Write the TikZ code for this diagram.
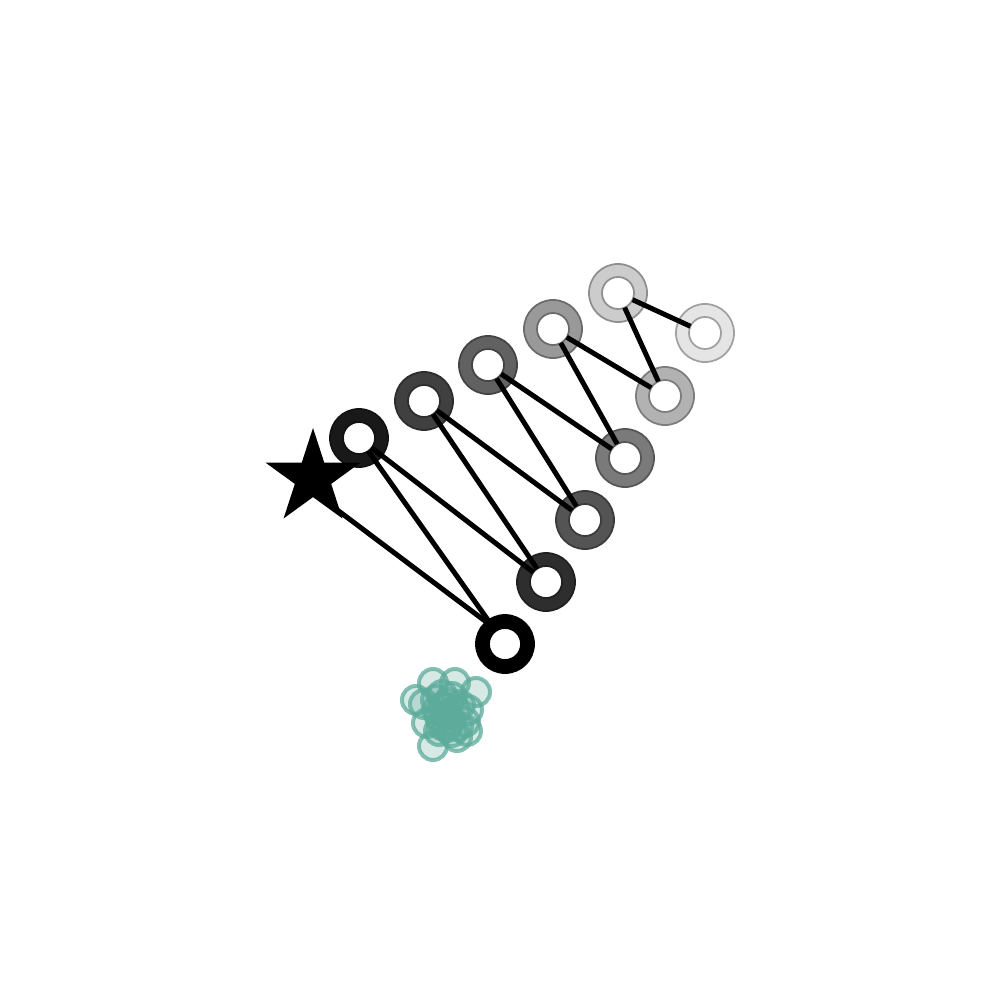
\documentclass[tikz,border=0pt]{standalone}
\usepackage{tikz}
\usetikzlibrary{shapes.geometric}
\definecolor{tealpt}{RGB}{92,171,155}
\tikzset{
  ring/.style={circle, minimum size=0.58cm, inner sep=0pt, outer sep=0pt, line width=0.5pt},
  hole/.style={circle, minimum size=0.32cm, inner sep=0pt, outer sep=0pt, fill=white, line width=0.5pt},
  link/.style={line width=0.05cm, black, shorten >=0.16cm, shorten <=0.16cm},
  blob/.style={circle, minimum size=0.28cm, inner sep=0pt, line width=0.04cm, draw=tealpt, draw opacity=0.75, fill=tealpt, fill opacity=0.25}
}
\begin{document}
\begin{tikzpicture}[x=0.01cm, y=-0.01cm]
\useasboundingbox[fill=white] (0,0) rectangle (1000,1000);

% cluster of samples
\foreach \px/\py in {433/683, 455/683, 476/692, 416/700, 424/704, 452/697, 468/710, 445/708,
                     440/717, 427/723, 447/727, 465/722, 467/731, 457/737, 433/746,
                     442/695, 448/703, 437/710, 455/712, 450/720, 442/725, 458/726,
                     446/715, 436/700, 460/705, 452/732, 439/731}
  \node[blob] at (\px,\py) {};

% rings, upper and lower rows
\foreach \nm/\px/\py/\lv in {b1/505/644/100, a1/359/438/90, b2/546/582/82, a2/424/401/75,
                             b3/585/520/67, a3/488/365/62, b4/625/458/52, a4/553/329/40,
                             b5/665/396/30, a5/618/293/20, b6/705/333/10} {
  \node[ring, fill=black!\lv, draw=black!\lv!white!70!black] (\nm) at (\px,\py) {};
  \node[hole, draw=black!\lv!white!70!black] at (\nm.center) {};
}

\coordinate (stp) at (332,506);
\coordinate (b1e) at (489,624);

\draw[link, shorten <=0pt, shorten >=0pt] (stp) -- (b1e);
\draw[link] (a1.center) -- (b1.center);
\draw[link] (a1.center) -- (b2.center);
\draw[link] (a2.center) -- (b2.center);
\draw[link] (a2.center) -- (b3.center);
\draw[link] (a3.center) -- (b3.center);
\draw[link] (a3.center) -- (b4.center);
\draw[link] (a4.center) -- (b4.center);
\draw[link] (a4.center) -- (b5.center);
\draw[link] (a5.center) -- (b5.center);
\draw[link] (a5.center) -- (b6.center);

\node[star, star points=5, star point ratio=2.618, fill=black, minimum size=1.0cm, inner sep=0pt] (st) at (313,478) {};
\end{tikzpicture}
\end{document}
